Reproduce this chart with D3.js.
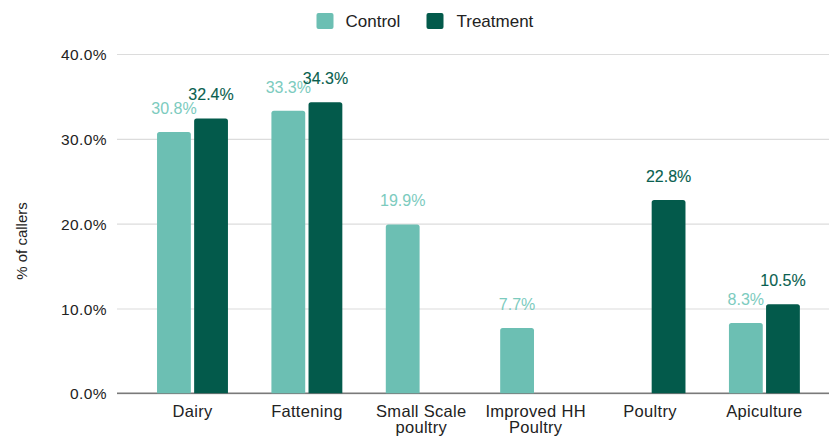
<!DOCTYPE html>
<html>
<head>
<meta charset="utf-8">
<script src="https://cdn.jsdelivr.net/npm/d3@7"></script>
<style>
  html, body { margin: 0; padding: 0; background: #fff; }
  svg { display: block; font-family: "Liberation Sans", Arial, sans-serif; }
</style>
</head>
<body>
<svg id="chart" width="829" height="437"></svg>
<script>
// Share of callers by enterprise type, control vs treatment group (percent)
const categories = ["Dairy", "Fattening", "Small Scale\npoultry", "Improved HH\nPoultry", "Poultry", "Apiculture"];
const seriesNames = ["Control", "Treatment"];
const controlValues = [30.8, 33.3, 19.9, 7.7, null, 8.3];
const treatmentValues = [32.4, 34.3, null, null, 22.8, 10.5];
const tickValues = [0, 10, 20, 30, 40];
const yTitle = "% of callers";

const barColors = { Control: "#6cbfb3", Treatment: "#035a4b" };
const labelColors = { Control: "#7ccbbe", Treatment: "#0a5f50" };

const svg = d3.select("#chart");
const W = 829;

const y = d3.scaleLinear().domain([0, 40]).range([393.3, 54]);
const x0 = d3.scaleBand().domain(categories).range([135.3, 821.6])
  .paddingInner(0.38).paddingOuter(0.19);
const x1 = d3.scaleBand().domain(seriesNames).range([0, x0.bandwidth()])
  .paddingInner(0.089);

const fmt = v => v.toFixed(1) + "%";

// Gridlines and y tick labels
const yAxis = svg.append("g")
  .attr("transform", "translate(117,0)")
  .call(d3.axisLeft(y).tickValues(tickValues).tickFormat(fmt).tickSize(-(W - 117)).tickPadding(10));
yAxis.select(".domain").remove();
yAxis.selectAll(".tick line").attr("stroke", "#dcdcdc").attr("stroke-width", 1.2);
yAxis.selectAll(".tick text")
  .attr("fill", "#222").style("font-size", "15.5px").style("letter-spacing", "0.4px")
  .attr("dy", "0.36em");

// Baseline
svg.append("line")
  .attr("x1", 117).attr("x2", W)
  .attr("y1", y(0)).attr("y2", y(0))
  .attr("stroke", "#7a7a7a").attr("stroke-width", 1.5);

// Flatten data into bar records
const rows = [];
categories.forEach((c, i) => {
  rows.push({ cat: c, series: "Control", value: controlValues[i] });
  rows.push({ cat: c, series: "Treatment", value: treatmentValues[i] });
});
const bars = rows.filter(d => d.value !== null);

// Bars with slightly rounded top corners
function barPath(d) {
  const x = x0(d.cat) + x1(d.series);
  const w = x1.bandwidth();
  const top = y(d.value), bot = y(0);
  const r = 2.5;
  return `M${x},${bot}V${top + r}Q${x},${top} ${x + r},${top}H${x + w - r}Q${x + w},${top} ${x + w},${top + r}V${bot}Z`;
}
svg.append("g").selectAll("path")
  .data(bars).join("path")
  .attr("d", barPath)
  .attr("fill", d => barColors[d.series]);

// Value labels
svg.append("g").selectAll("text")
  .data(bars).join("text")
  .attr("x", d => x0(d.cat) + x1(d.series) + x1.bandwidth() / 2)
  .attr("y", d => y(d.value) - 18)
  .attr("text-anchor", "middle")
  .style("font-size", "16px")
  .attr("fill", d => labelColors[d.series])
  .attr("stroke", d => d.series === "Treatment" ? labelColors.Treatment : "none")
  .attr("stroke-width", 0.12)
  .text(d => fmt(d.value));

// Category labels (wrapped on newline)
const xAxis = svg.append("g")
  .attr("transform", `translate(0,${y(0)})`)
  .call(d3.axisBottom(x0).tickSize(0).tickPadding(0));
xAxis.select(".domain").remove();
xAxis.selectAll(".tick text").each(function (d) {
  const t = d3.select(this);
  t.text(null).attr("y", 0).attr("dy", null)
    .attr("fill", "#222").style("font-size", "16.5px").style("letter-spacing", "0.3px");
  d.split("\n").forEach((line, i) => {
    t.append("tspan").attr("x", 0).attr("y", 24.2 + i * 16).text(line);
  });
});

// Y axis title
svg.append("text")
  .attr("transform", "translate(26.5,241) rotate(-90)")
  .attr("text-anchor", "middle")
  .style("font-size", "15px")
  .attr("fill", "#222")
  .text(yTitle);

// Legend
const legendItems = [
  { name: "Control", sx: 316.5, tx: 345.5 },
  { name: "Treatment", sx: 426.5, tx: 456.5 }
];
const lg = svg.append("g");
lg.selectAll("rect").data(legendItems).join("rect")
  .attr("x", d => d.sx).attr("y", 13).attr("width", 17).attr("height", 16)
  .attr("rx", 2).attr("fill", d => barColors[d.name]);
lg.selectAll("text").data(legendItems).join("text")
  .attr("x", d => d.tx).attr("y", 27)
  .style("font-size", "17px").attr("fill", "#222")
  .text(d => d.name);
</script>
</body>
</html>
